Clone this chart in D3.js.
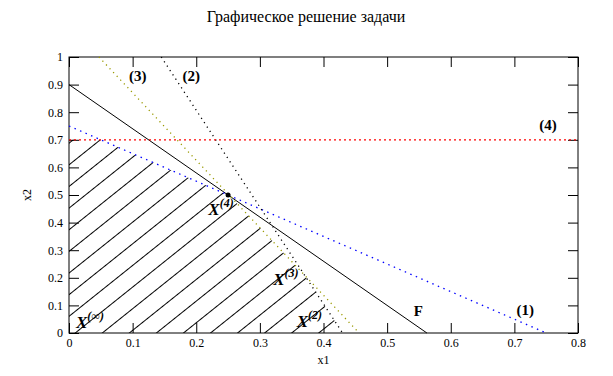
<html>
<head>
<meta charset="utf-8">
<script src="https://cdn.jsdelivr.net/npm/d3@7"></script>
<style>
    body { margin: 0; background: #fff; }
    text { font-family: "Liberation Serif", "Times New Roman", serif; }
</style>
</head>
<body>
<svg id="chart" width="613" height="376"></svg>
<script>
    // tick values
    let xTicks = [0, 0.1, 0.2, 0.3, 0.4, 0.5, 0.6, 0.7, 0.8]
    let yTicks = [0, 0.1, 0.2, 0.3, 0.4, 0.5, 0.6, 0.7, 0.8, 0.9, 1]

    // constraint lines (x1, x2 endpoints)
    let line1 = [[0, 0.75], [0.75, 0]]
    let line2 = [[0.145, 1], [0.43, 0]]
    let line3 = [[0.047, 1], [0.456, 0]]
    let line4 = [[0, 0.7], [0.8, 0.7]]
    let lineF = [[0, 0.9], [0.5625, 0]]

    let optimum = [0.25, 0.5]

    let svg = d3.select("#chart")
    let m = { left: 69, right: 578, top: 57, bottom: 333 }

    let x = d3.scaleLinear().domain([0, 0.8]).range([m.left, m.right])
    let y = d3.scaleLinear().domain([0, 1]).range([m.bottom, m.top])
    let path = d3.line().x(d => x(d[0])).y(d => y(d[1]))

    // intersection of two lines given by endpoints
    function cross(a, b) {
        let [[x1, y1], [x2, y2]] = a, [[x3, y3], [x4, y4]] = b
        let den = (x1 - x2) * (y3 - y4) - (y1 - y2) * (x3 - x4)
        let t = ((x1 - x3) * (y3 - y4) - (y1 - y3) * (x3 - x4)) / den
        return [x1 + t * (x2 - x1), y1 + t * (y2 - y1)]
    }

    // feasible region
    let region = [[0, 0], [0, line4[0][1]], cross(line4, line1), cross(line1, line3),
        cross(line3, line2), line2[1]]

    // hatch pattern
    let defs = svg.append("defs")
    let pat = defs.append("pattern")
        .attr("id", "hatch")
        .attr("patternUnits", "userSpaceOnUse")
        .attr("width", 40).attr("height", 16.9)
        .attr("patternTransform", "translate(101.5,333) rotate(-38.66)")
    pat.append("line")
        .attr("x1", 0).attr("x2", 40).attr("y1", 0.5).attr("y2", 0.5)
        .attr("stroke", "#000").attr("stroke-width", 1)

    svg.append("path")
        .attr("d", path(region) + "Z")
        .attr("fill", "url(#hatch)")

    // frame
    svg.append("rect")
        .attr("x", m.left).attr("y", m.top)
        .attr("width", m.right - m.left).attr("height", m.bottom - m.top)
        .attr("fill", "none").attr("stroke", "#000")

    let fmt = d => d === 0 ? "0" : d === 1 ? "1" : d3.format(".1f")(d)

    svg.append("g").attr("transform", `translate(0,${m.bottom})`)
        .call(d3.axisBottom(x).tickValues(xTicks).tickFormat(fmt).tickSizeInner(-10).tickSizeOuter(0).tickPadding(5))
    svg.append("g").attr("transform", `translate(${m.left},0)`)
        .call(d3.axisLeft(y).tickValues(yTicks).tickFormat(fmt).tickSizeInner(-10).tickSizeOuter(0).tickPadding(6))
    svg.append("g").attr("transform", `translate(0,${m.top})`)
        .call(d3.axisTop(x).tickValues(xTicks).tickFormat("").tickSizeInner(-10).tickSizeOuter(0))
    svg.append("g").attr("transform", `translate(${m.right},0)`)
        .call(d3.axisRight(y).tickValues(yTicks).tickFormat("").tickSizeInner(-10).tickSizeOuter(0))

    svg.selectAll(".domain").remove()
    svg.selectAll(".tick text")
        .style("font-family", "'Liberation Serif', serif")
        .style("font-size", "12px")
        .attr("fill", "#000")

    // constraint lines
    svg.append("path").attr("d", path(lineF)).attr("fill", "none").attr("stroke", "#000").attr("stroke-width", 1)
    svg.append("path").attr("d", path(line1)).attr("fill", "none").attr("stroke", "#0000ff").attr("stroke-width", 1.3).attr("stroke-dasharray", "1.5,4.5")
    svg.append("path").attr("d", path(line2)).attr("fill", "none").attr("stroke", "#000").attr("stroke-width", 1.3).attr("stroke-dasharray", "1.2,4")
    svg.append("path").attr("d", path(line3)).attr("fill", "none").attr("stroke", "#999900").attr("stroke-width", 1.3).attr("stroke-dasharray", "1.2,4")
    svg.append("path").attr("d", path(line4)).attr("fill", "none").attr("stroke", "#ff0000").attr("stroke-width", 1.3).attr("stroke-dasharray", "2,3")

    svg.append("circle")
        .attr("cx", x(optimum[0])).attr("cy", y(optimum[1]))
        .attr("r", 2.5).attr("fill", "#000")

    // line labels
    let lineLabels = [
        { t: "(3)", p: [0.108, 0.913] },
        { t: "(2)", p: [0.192, 0.913] },
        { t: "(4)", p: [0.753, 0.736] },
        { t: "(1)", p: [0.717, 0.065] },
        { t: "F", p: [0.549, 0.062] }
    ]
    svg.selectAll(".lbl").data(lineLabels).enter().append("text")
        .attr("x", d => x(d.p[0])).attr("y", d => y(d.p[1]))
        .attr("text-anchor", "middle")
        .style("font-size", "15px").style("font-weight", "bold")
        .text(d => d.t)

    // vertex labels
    let pointLabels = [
        { s: "(4)", p: [0.219, 0.428] },
        { s: "(3)", p: [0.321, 0.174] },
        { s: "(2)", p: [0.358, 0.022] },
        { s: "(\u221e)", p: [0.011, 0.018] }
    ]
    let pl = svg.selectAll(".pl").data(pointLabels).enter().append("text")
        .attr("x", d => x(d.p[0])).attr("y", d => y(d.p[1]))
        .style("font-size", "17px").style("font-weight", "bold").style("font-style", "italic")
    pl.append("tspan").text("X")
    pl.append("tspan").attr("dy", -8).style("font-size", "12px").text(d => d.s)

    // titles
    svg.append("text").attr("x", 306).attr("y", 22).attr("text-anchor", "middle")
        .style("font-size", "16px").text("Графическое решение задачи")
    svg.append("text").attr("x", x(0.4)).attr("y", 364).attr("text-anchor", "middle")
        .style("font-size", "12px").text("x1")
    svg.append("text").attr("transform", `translate(31,${y(0.5)}) rotate(-90)`).attr("text-anchor", "middle")
        .style("font-size", "12px").text("x2")
</script>
</body>
</html>
